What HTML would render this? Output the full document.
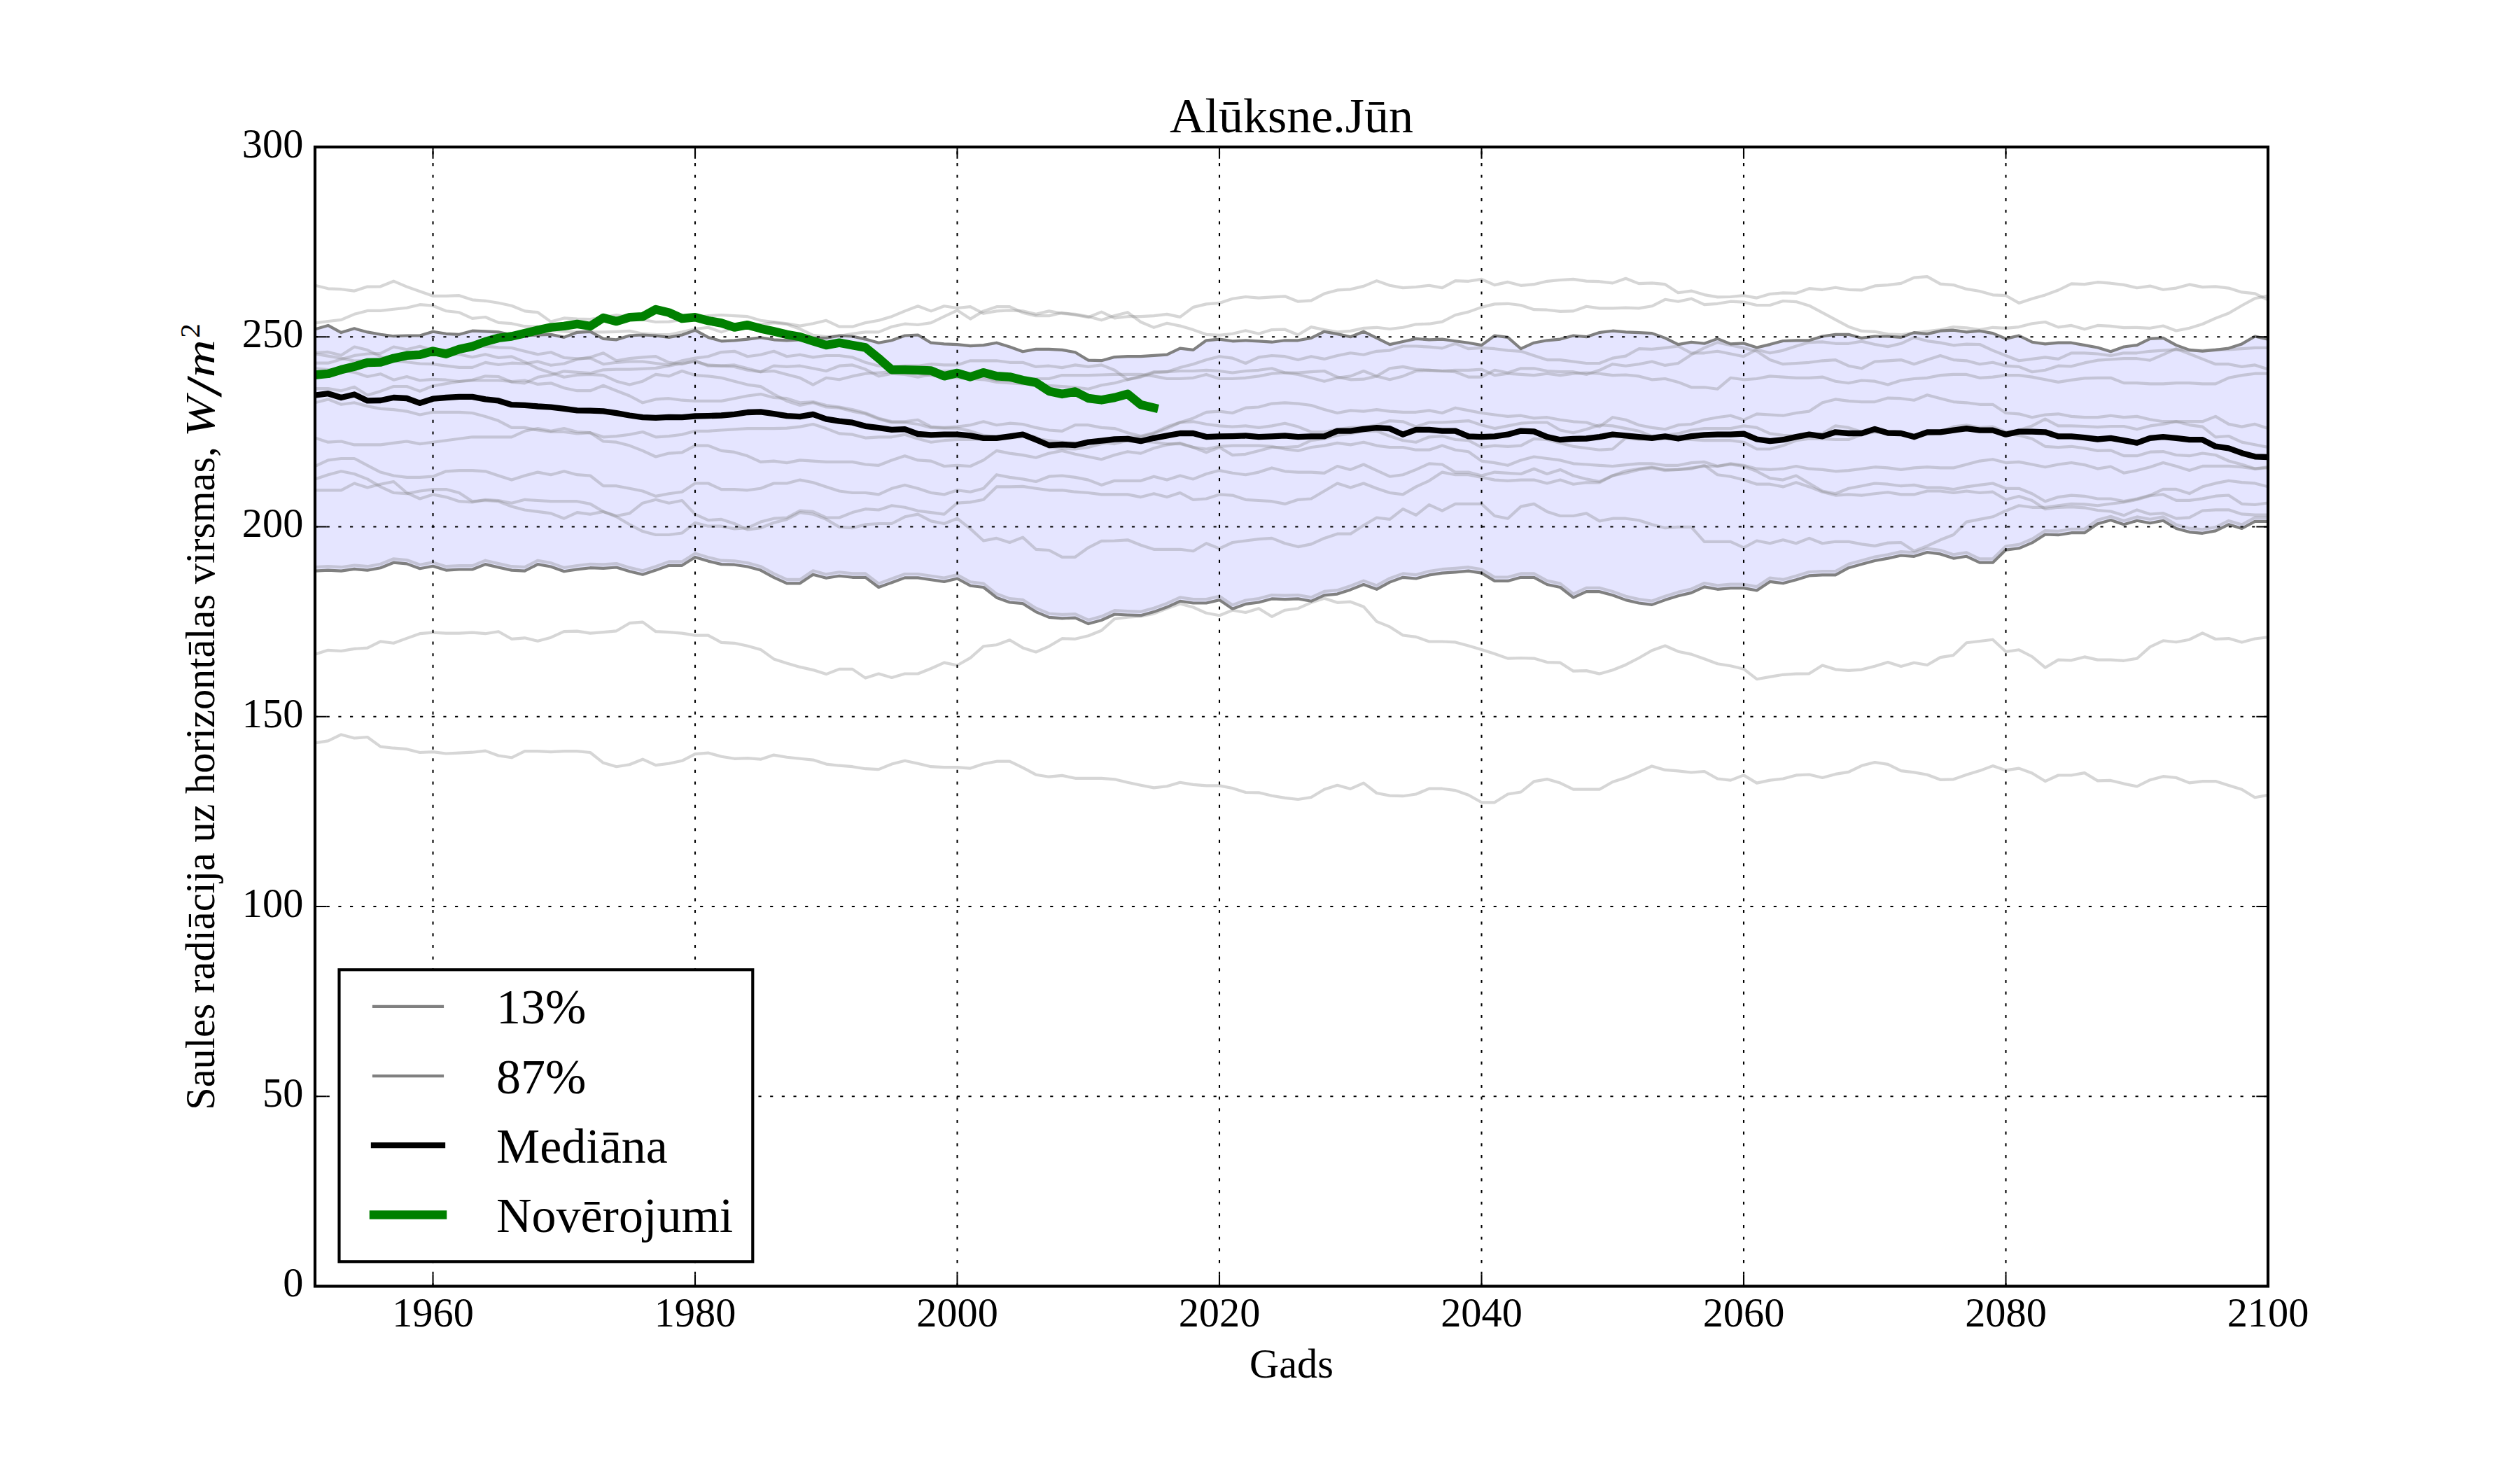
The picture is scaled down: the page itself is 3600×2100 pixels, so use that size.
<!DOCTYPE html><html><head><meta charset="utf-8"><style>html,body{margin:0;padding:0;background:#fff;width:3600px;height:2100px;overflow:hidden}svg{display:block}text{font-family:"Liberation Serif",serif;fill:#000}</style></head><body>
<svg width="3600" height="2100" viewBox="0 0 3600 2100">
<defs><clipPath id="ax"><rect x="450.0" y="210.0" width="2790.0" height="1627.5"/></clipPath></defs>
<rect x="0" y="0" width="3600" height="2100" fill="#fff"/>
<g clip-path="url(#ax)">
<path d="M450.0,470.3 L468.7,464.9 L487.4,475.1 L506.2,469.3 L524.9,474.4 L543.6,477.8 L562.3,480.2 L581.1,479.5 L599.8,479.5 L618.5,473.7 L637.2,476.8 L656.0,477.8 L674.7,472.7 L693.4,473.4 L712.1,474.4 L730.9,478.5 L749.6,479.5 L768.3,478.5 L787.0,477.8 L805.8,481.9 L824.5,474.8 L843.2,473.7 L861.9,483.9 L880.7,485.3 L899.4,479.5 L918.1,478.5 L936.8,479.5 L955.6,481.9 L974.3,478.5 L993.0,471.7 L1011.7,481.9 L1030.5,487.3 L1049.2,486.3 L1067.9,484.6 L1086.6,482.2 L1105.4,485.3 L1124.1,486.3 L1142.8,485.3 L1161.5,482.9 L1180.3,482.9 L1199.0,479.5 L1217.7,480.5 L1236.4,484.6 L1255.2,489.7 L1273.9,486.3 L1292.6,479.5 L1311.3,478.5 L1330.1,489.7 L1348.8,491.4 L1367.5,492.1 L1386.2,494.1 L1405.0,493.1 L1423.7,489.7 L1442.4,495.5 L1461.1,502.3 L1479.9,498.9 L1498.6,498.9 L1517.3,499.9 L1536.0,503.3 L1554.8,514.6 L1573.5,515.2 L1592.2,510.1 L1610.9,509.1 L1629.7,509.1 L1648.4,507.8 L1667.1,506.7 L1685.8,497.6 L1704.6,499.9 L1723.3,486.3 L1742.0,484.6 L1760.7,487.3 L1779.5,486.3 L1798.2,487.3 L1816.9,488.7 L1835.6,486.3 L1854.4,486.3 L1873.1,482.9 L1891.8,473.7 L1910.5,477.1 L1929.3,481.2 L1948.0,473.7 L1966.7,482.9 L1985.4,492.1 L2004.2,488.0 L2022.9,483.9 L2041.6,485.3 L2060.3,484.6 L2079.1,487.3 L2097.8,489.7 L2116.5,493.1 L2135.2,479.5 L2154.0,481.9 L2172.7,498.2 L2191.4,489.7 L2210.1,486.3 L2228.9,484.6 L2247.6,479.5 L2266.3,481.2 L2285.0,475.1 L2303.8,472.7 L2322.5,474.4 L2341.2,475.1 L2359.9,476.1 L2378.7,482.9 L2397.4,492.1 L2416.1,488.7 L2434.8,490.7 L2453.6,483.9 L2472.3,491.4 L2491.0,490.4 L2509.7,496.5 L2528.5,492.1 L2547.2,487.0 L2565.9,486.3 L2584.6,486.3 L2603.4,480.5 L2622.1,477.8 L2640.8,477.8 L2659.5,482.9 L2678.3,480.5 L2697.0,480.5 L2715.7,481.9 L2734.4,475.1 L2753.2,477.1 L2771.9,472.7 L2790.6,471.7 L2809.3,474.4 L2828.1,472.7 L2846.8,476.1 L2865.5,483.9 L2884.2,479.5 L2903.0,488.7 L2921.7,491.4 L2940.4,489.7 L2959.1,489.7 L2977.9,493.1 L2996.6,496.5 L3015.3,502.3 L3034.0,495.5 L3052.8,493.1 L3071.5,483.9 L3090.2,482.9 L3108.9,493.1 L3127.7,499.9 L3146.4,501.6 L3165.1,499.9 L3183.8,497.6 L3202.6,491.4 L3221.3,480.5 L3240.0,484.6 L3240.0,744.8 L3221.3,744.8 L3202.6,755.0 L3183.8,749.3 L3165.1,758.4 L3146.4,761.8 L3127.7,760.1 L3108.9,755.0 L3090.2,743.8 L3071.5,747.2 L3052.8,743.8 L3034.0,749.3 L3015.3,743.1 L2996.6,748.2 L2977.9,761.2 L2959.1,761.2 L2940.4,764.2 L2921.7,763.5 L2903.0,775.4 L2884.2,783.3 L2865.5,785.6 L2846.8,803.7 L2828.1,803.7 L2809.3,794.8 L2790.6,797.6 L2771.9,791.4 L2753.2,789.0 L2734.4,794.8 L2715.7,793.5 L2697.0,797.6 L2678.3,801.0 L2659.5,806.1 L2640.8,811.2 L2622.1,821.4 L2603.4,821.4 L2584.6,822.4 L2565.9,828.2 L2547.2,833.3 L2528.5,830.9 L2509.7,843.5 L2491.0,840.1 L2472.3,840.1 L2453.6,841.8 L2434.8,838.4 L2416.1,846.9 L2397.4,851.3 L2378.7,857.1 L2359.9,863.9 L2341.2,861.5 L2322.5,857.1 L2303.8,850.3 L2285.0,845.2 L2266.3,845.2 L2247.6,853.7 L2228.9,839.0 L2210.1,835.0 L2191.4,824.8 L2172.7,824.8 L2154.0,829.9 L2135.2,829.9 L2116.5,818.6 L2097.8,815.6 L2079.1,817.3 L2060.3,818.6 L2041.6,821.4 L2022.9,826.5 L2004.2,824.8 L1985.4,831.6 L1966.7,841.8 L1948.0,835.0 L1929.3,842.4 L1910.5,848.6 L1891.8,850.3 L1873.1,858.8 L1854.4,855.4 L1835.6,856.1 L1816.9,855.4 L1798.2,860.5 L1779.5,862.9 L1760.7,869.7 L1742.0,857.1 L1723.3,861.5 L1704.6,861.5 L1685.8,858.8 L1667.1,867.3 L1648.4,874.1 L1629.7,879.2 L1610.9,878.5 L1592.2,877.5 L1573.5,886.0 L1554.8,891.1 L1536.0,882.6 L1517.3,883.3 L1498.6,881.9 L1479.9,874.1 L1461.1,862.2 L1442.4,860.5 L1423.7,853.7 L1405.0,839.0 L1386.2,836.7 L1367.5,826.5 L1348.8,830.9 L1330.1,828.2 L1311.3,825.4 L1292.6,825.4 L1273.9,832.2 L1255.2,839.0 L1236.4,824.8 L1217.7,824.8 L1199.0,822.7 L1180.3,825.8 L1161.5,820.7 L1142.8,833.3 L1124.1,833.3 L1105.4,824.8 L1086.6,814.6 L1067.9,809.5 L1049.2,806.7 L1030.5,806.1 L1011.7,801.6 L993.0,795.9 L974.3,807.8 L955.6,807.8 L936.8,814.6 L918.1,820.7 L899.4,816.3 L880.7,810.5 L861.9,811.8 L843.2,811.2 L824.5,813.4 L805.8,816.3 L787.0,809.5 L768.3,806.1 L749.6,815.6 L730.9,814.6 L712.1,810.5 L693.4,806.1 L674.7,813.5 L656.0,813.5 L637.2,814.6 L618.5,808.8 L599.8,812.2 L581.1,805.4 L562.3,803.7 L543.6,811.2 L524.9,814.6 L506.2,812.9 L487.4,815.6 L468.7,814.6 L450.0,815.6 Z" fill="#e5e5ff" stroke="none"/>
<path d="M450.0,504.0 L468.7,502.9 L487.4,507.6 L506.2,495.5 L524.9,500.1 L543.6,509.4 L562.3,515.6 L581.1,517.2 L599.8,519.5 L618.5,520.2 L637.2,522.6 L656.0,524.9 L674.7,524.9 L693.4,517.9 L712.1,521.0 L730.9,518.7 L749.6,519.5 L768.3,516.4 L787.0,521.8 L805.8,519.5 L824.5,513.3 L843.2,510.4 L861.9,504.3 L880.7,515.3 L899.4,512.1 L918.1,510.4 L936.8,509.2 L955.6,517.8 L974.3,520.2 L993.0,515.3 L1011.7,522.7 L1030.5,522.7 L1049.2,521.4 L1067.9,526.3 L1086.6,531.2 L1105.4,522.7 L1124.1,523.9 L1142.8,522.7 L1161.5,526.3 L1180.3,530.0 L1199.0,522.7 L1217.7,521.4 L1236.4,527.6 L1255.2,537.4 L1273.9,533.7 L1292.6,534.9 L1311.3,538.6 L1330.1,534.9 L1348.8,530.0 L1367.5,530.0 L1386.2,533.7 L1405.0,538.6 L1423.7,543.5 L1442.4,543.5 L1461.1,542.3 L1479.9,541.0 L1498.6,541.0 L1517.3,536.1 L1536.0,536.1 L1554.8,536.1 L1573.5,535.5 L1592.2,534.9 L1610.9,534.9 L1629.7,534.9 L1648.4,537.4 L1667.1,541.0 L1685.8,541.0 L1704.6,539.8 L1723.3,534.9 L1742.0,541.0 L1760.7,541.0 L1779.5,539.8 L1798.2,537.4 L1816.9,533.7 L1835.6,532.5 L1854.4,532.5 L1873.1,531.2 L1891.8,530.0 L1910.5,538.6 L1929.3,542.3 L1948.0,541.7 L1966.7,537.4 L1985.4,526.3 L2004.2,523.9 L2022.9,527.6 L2041.6,528.8 L2060.3,530.0 L2079.1,528.8 L2097.8,528.8 L2116.5,527.6 L2135.2,536.1 L2154.0,533.7 L2172.7,534.9 L2191.4,536.1 L2210.1,533.7 L2228.9,536.1 L2247.6,533.7 L2266.3,532.5 L2285.0,533.7 L2303.8,536.1 L2322.5,535.5 L2341.2,537.4 L2359.9,542.3 L2378.7,541.0 L2397.4,545.9 L2416.1,553.3 L2434.8,553.3 L2453.6,555.7 L2472.3,539.8 L2491.0,542.3 L2509.7,541.0 L2528.5,537.4 L2547.2,538.6 L2565.9,539.8 L2584.6,539.8 L2603.4,538.6 L2622.1,544.7 L2640.8,547.2 L2659.5,543.5 L2678.3,544.7 L2697.0,549.6 L2715.7,543.5 L2734.4,541.0 L2753.2,539.8 L2771.9,536.1 L2790.6,534.9 L2809.3,534.9 L2828.1,539.8 L2846.8,538.6 L2865.5,536.1 L2884.2,536.1 L2903.0,538.6 L2921.7,542.3 L2940.4,545.9 L2959.1,542.9 L2977.9,540.4 L2996.6,539.8 L3015.3,539.8 L3034.0,547.1 L3052.8,547.1 L3071.5,548.4 L3090.2,548.4 L3108.9,547.1 L3127.7,547.1 L3146.4,548.4 L3165.1,548.4 L3183.8,539.8 L3202.6,536.1 L3221.3,533.7 L3240.0,533.7" fill="none" stroke="#808080" stroke-opacity="0.32" stroke-width="4.17" stroke-linejoin="round"/>
<path d="M450.0,518.7 L468.7,518.7 L487.4,513.3 L506.2,507.9 L524.9,505.5 L543.6,504.8 L562.3,495.5 L581.1,499.3 L599.8,494.7 L618.5,500.1 L637.2,505.5 L656.0,506.3 L674.7,510.2 L693.4,506.3 L712.1,511.0 L730.9,509.4 L749.6,517.2 L768.3,526.4 L787.0,532.6 L805.8,538.8 L824.5,535.7 L843.2,534.9 L861.9,536.1 L880.7,544.7 L899.4,549.6 L918.1,544.7 L936.8,534.9 L955.6,537.4 L974.3,530.0 L993.0,536.1 L1011.7,537.4 L1030.5,539.8 L1049.2,544.7 L1067.9,549.6 L1086.6,552.1 L1105.4,563.1 L1124.1,572.9 L1142.8,579.0 L1161.5,575.3 L1180.3,581.5 L1199.0,582.7 L1217.7,587.6 L1236.4,591.3 L1255.2,598.6 L1273.9,603.5 L1292.6,603.5 L1311.3,606.0 L1330.1,610.9 L1348.8,611.6 L1367.5,611.6 L1386.2,615.8 L1405.0,621.9 L1423.7,624.3 L1442.4,623.1 L1461.1,621.4 L1479.9,624.3 L1498.6,639.0 L1517.3,641.0 L1536.0,641.5 L1554.8,639.0 L1573.5,634.1 L1592.2,629.2 L1610.9,624.3 L1629.7,624.3 L1648.4,619.4 L1667.1,612.1 L1685.8,603.5 L1704.6,602.3 L1723.3,606.0 L1742.0,608.4 L1760.7,609.6 L1779.5,608.4 L1798.2,610.9 L1816.9,608.4 L1835.6,604.7 L1854.4,609.6 L1873.1,617.0 L1891.8,617.0 L1910.5,613.3 L1929.3,610.9 L1948.0,610.2 L1966.7,607.2 L1985.4,601.1 L2004.2,602.3 L2022.9,609.6 L2041.6,603.5 L2060.3,603.5 L2079.1,602.3 L2097.8,601.1 L2116.5,607.2 L2135.2,612.1 L2154.0,608.4 L2172.7,604.7 L2191.4,603.5 L2210.1,603.5 L2228.9,614.5 L2247.6,618.2 L2266.3,613.3 L2285.0,607.2 L2303.8,608.4 L2322.5,612.1 L2341.2,615.8 L2359.9,623.1 L2378.7,621.9 L2397.4,619.4 L2416.1,614.5 L2434.8,612.1 L2453.6,612.1 L2472.3,612.1 L2491.0,608.4 L2509.7,610.9 L2528.5,619.4 L2547.2,621.9 L2565.9,623.1 L2584.6,621.9 L2603.4,619.4 L2622.1,608.4 L2640.8,610.9 L2659.5,617.0 L2678.3,617.0 L2697.0,618.2 L2715.7,618.2 L2734.4,626.8 L2753.2,619.4 L2771.9,617.0 L2790.6,609.6 L2809.3,607.2 L2828.1,610.9 L2846.8,609.6 L2865.5,617.0 L2884.2,614.5 L2903.0,608.4 L2921.7,598.6 L2940.4,608.4 L2959.1,608.4 L2977.9,609.0 L2996.6,610.2 L3015.3,609.0 L3034.0,609.0 L3052.8,613.3 L3071.5,608.4 L3090.2,605.9 L3108.9,602.2 L3127.7,607.1 L3146.4,609.6 L3165.1,624.3 L3183.8,623.0 L3202.6,631.6 L3221.3,635.3 L3240.0,639.0" fill="none" stroke="#808080" stroke-opacity="0.32" stroke-width="4.17" stroke-linejoin="round"/>
<path d="M450.0,505.5 L468.7,508.6 L487.4,511.7 L506.2,515.6 L524.9,514.8 L543.6,513.3 L562.3,511.0 L581.1,508.6 L599.8,506.3 L618.5,503.2 L637.2,500.1 L656.0,497.0 L674.7,493.9 L693.4,494.7 L712.1,496.3 L730.9,497.0 L749.6,501.7 L768.3,506.3 L787.0,503.2 L805.8,511.0 L824.5,512.4 L843.2,511.6 L861.9,520.2 L880.7,517.8 L899.4,516.5 L918.1,516.5 L936.8,519.0 L955.6,521.4 L974.3,515.3 L993.0,511.6 L1011.7,509.2 L1030.5,503.1 L1049.2,501.8 L1067.9,509.2 L1086.6,506.7 L1105.4,501.8 L1124.1,509.2 L1142.8,506.7 L1161.5,510.4 L1180.3,508.0 L1199.0,508.0 L1217.7,510.4 L1236.4,517.8 L1255.2,522.7 L1273.9,523.9 L1292.6,522.7 L1311.3,522.7 L1330.1,520.2 L1348.8,521.4 L1367.5,521.4 L1386.2,515.3 L1405.0,515.3 L1423.7,515.3 L1442.4,517.8 L1461.1,517.8 L1479.9,523.9 L1498.6,522.7 L1517.3,525.1 L1536.0,521.4 L1554.8,523.9 L1573.5,521.4 L1592.2,528.8 L1610.9,542.3 L1629.7,537.4 L1648.4,531.2 L1667.1,531.2 L1685.8,530.0 L1704.6,530.0 L1723.3,528.8 L1742.0,530.0 L1760.7,532.5 L1779.5,530.0 L1798.2,528.8 L1816.9,526.3 L1835.6,532.5 L1854.4,534.9 L1873.1,539.8 L1891.8,544.7 L1910.5,539.8 L1929.3,537.4 L1948.0,530.0 L1966.7,537.4 L1985.4,542.3 L2004.2,537.4 L2022.9,530.0 L2041.6,528.8 L2060.3,530.0 L2079.1,531.2 L2097.8,538.6 L2116.5,538.6 L2135.2,528.8 L2154.0,532.5 L2172.7,526.3 L2191.4,526.3 L2210.1,530.0 L2228.9,531.2 L2247.6,531.2 L2266.3,534.9 L2285.0,528.8 L2303.8,520.2 L2322.5,522.7 L2341.2,520.2 L2359.9,516.5 L2378.7,521.9 L2397.4,519.0 L2416.1,506.7 L2434.8,496.9 L2453.6,489.1 L2472.3,493.3 L2491.0,496.9 L2509.7,501.8 L2528.5,514.1 L2547.2,520.2 L2565.9,519.0 L2584.6,517.8 L2603.4,515.3 L2622.1,514.1 L2640.8,522.7 L2659.5,526.3 L2678.3,516.5 L2697.0,515.3 L2715.7,514.1 L2734.4,520.2 L2753.2,514.1 L2771.9,508.0 L2790.6,514.1 L2809.3,515.3 L2828.1,520.2 L2846.8,517.8 L2865.5,522.7 L2884.2,523.9 L2903.0,531.2 L2921.7,528.8 L2940.4,522.7 L2959.1,523.3 L2977.9,518.4 L2996.6,514.7 L3015.3,513.5 L3034.0,512.2 L3052.8,512.2 L3071.5,514.7 L3090.2,506.7 L3108.9,498.2 L3127.7,505.5 L3146.4,512.9 L3165.1,520.2 L3183.8,520.2 L3202.6,523.9 L3221.3,521.4 L3240.0,527.5" fill="none" stroke="#808080" stroke-opacity="0.32" stroke-width="4.17" stroke-linejoin="round"/>
<path d="M450.0,526.4 L468.7,528.0 L487.4,529.5 L506.2,531.9 L524.9,538.0 L543.6,534.2 L562.3,542.7 L581.1,538.0 L599.8,543.5 L618.5,541.9 L637.2,542.7 L656.0,545.0 L674.7,543.5 L693.4,543.5 L712.1,543.5 L730.9,545.0 L749.6,543.5 L768.3,548.9 L787.0,547.3 L805.8,554.3 L824.5,558.2 L843.2,558.2 L861.9,550.8 L880.7,558.2 L899.4,565.5 L918.1,575.3 L936.8,570.4 L955.6,569.2 L974.3,571.7 L993.0,572.9 L1011.7,572.9 L1030.5,572.9 L1049.2,569.2 L1067.9,565.5 L1086.6,563.1 L1105.4,568.0 L1124.1,569.2 L1142.8,575.3 L1161.5,574.1 L1180.3,579.0 L1199.0,581.5 L1217.7,585.1 L1236.4,590.0 L1255.2,597.4 L1273.9,602.3 L1292.6,602.3 L1311.3,599.8 L1330.1,609.6 L1348.8,610.9 L1367.5,609.6 L1386.2,607.2 L1405.0,602.3 L1423.7,607.2 L1442.4,604.7 L1461.1,606.0 L1479.9,610.9 L1498.6,614.5 L1517.3,615.8 L1536.0,607.2 L1554.8,607.2 L1573.5,610.9 L1592.2,612.1 L1610.9,618.2 L1629.7,623.1 L1648.4,618.2 L1667.1,609.6 L1685.8,603.5 L1704.6,597.4 L1723.3,588.8 L1742.0,587.6 L1760.7,590.0 L1779.5,582.7 L1798.2,581.5 L1816.9,576.6 L1835.6,575.3 L1854.4,576.6 L1873.1,579.0 L1891.8,585.1 L1910.5,590.0 L1929.3,586.4 L1948.0,587.6 L1966.7,585.1 L1985.4,587.6 L2004.2,588.8 L2022.9,588.8 L2041.6,586.4 L2060.3,590.0 L2079.1,582.7 L2097.8,586.4 L2116.5,590.0 L2135.2,592.5 L2154.0,594.9 L2172.7,593.7 L2191.4,597.4 L2210.1,596.2 L2228.9,599.8 L2247.6,602.3 L2266.3,603.5 L2285.0,609.6 L2303.8,596.2 L2322.5,599.8 L2341.2,607.2 L2359.9,610.9 L2378.7,613.3 L2397.4,607.2 L2416.1,606.0 L2434.8,599.8 L2453.6,596.2 L2472.3,593.7 L2491.0,599.8 L2509.7,591.3 L2528.5,592.5 L2547.2,593.7 L2565.9,590.0 L2584.6,587.6 L2603.4,575.3 L2622.1,570.4 L2640.8,572.9 L2659.5,574.1 L2678.3,574.1 L2697.0,568.6 L2715.7,569.2 L2734.4,571.7 L2753.2,564.3 L2771.9,569.2 L2790.6,574.1 L2809.3,575.3 L2828.1,577.8 L2846.8,577.8 L2865.5,590.0 L2884.2,591.3 L2903.0,596.2 L2921.7,592.5 L2940.4,591.3 L2959.1,594.9 L2977.9,596.1 L2996.6,596.1 L3015.3,593.7 L3034.0,596.1 L3052.8,594.9 L3071.5,599.2 L3090.2,602.2 L3108.9,602.2 L3127.7,602.2 L3146.4,602.2 L3165.1,594.9 L3183.8,605.9 L3202.6,609.6 L3221.3,605.9 L3240.0,612.0" fill="none" stroke="#808080" stroke-opacity="0.32" stroke-width="4.17" stroke-linejoin="round"/>
<path d="M450.0,555.1 L468.7,555.1 L487.4,558.2 L506.2,552.8 L524.9,564.4 L543.6,558.9 L562.3,552.0 L581.1,552.0 L599.8,558.9 L618.5,551.2 L637.2,548.1 L656.0,545.0 L674.7,542.7 L693.4,537.3 L712.1,538.0 L730.9,545.8 L749.6,547.3 L768.3,538.8 L787.0,535.7 L805.8,530.3 L824.5,531.9 L843.2,533.2 L861.9,528.3 L880.7,527.6 L899.4,527.6 L918.1,526.8 L936.8,525.9 L955.6,522.7 L974.3,519.0 L993.0,516.5 L1011.7,521.4 L1030.5,522.7 L1049.2,523.9 L1067.9,528.8 L1086.6,531.2 L1105.4,530.0 L1124.1,534.9 L1142.8,539.8 L1161.5,549.6 L1180.3,539.8 L1199.0,542.3 L1217.7,537.4 L1236.4,533.7 L1255.2,532.5 L1273.9,531.2 L1292.6,532.5 L1311.3,533.7 L1330.1,536.1 L1348.8,538.6 L1367.5,539.8 L1386.2,541.0 L1405.0,542.3 L1423.7,545.9 L1442.4,547.2 L1461.1,548.4 L1479.9,548.4 L1498.6,550.8 L1517.3,552.1 L1536.0,553.3 L1554.8,555.7 L1573.5,550.2 L1592.2,547.2 L1610.9,542.3 L1629.7,538.6 L1648.4,532.5 L1667.1,531.2 L1685.8,525.1 L1704.6,520.2 L1723.3,514.1 L1742.0,509.2 L1760.7,511.6 L1779.5,519.0 L1798.2,510.4 L1816.9,508.0 L1835.6,509.2 L1854.4,514.1 L1873.1,509.2 L1891.8,512.9 L1910.5,508.0 L1929.3,504.3 L1948.0,506.7 L1966.7,501.8 L1985.4,500.6 L2004.2,494.5 L2022.9,494.5 L2041.6,495.7 L2060.3,497.4 L2079.1,490.8 L2097.8,498.2 L2116.5,496.9 L2135.2,498.2 L2154.0,500.6 L2172.7,501.8 L2191.4,508.0 L2210.1,514.1 L2228.9,514.1 L2247.6,516.5 L2266.3,519.0 L2285.0,519.0 L2303.8,511.6 L2322.5,508.6 L2341.2,498.2 L2359.9,498.9 L2378.7,496.9 L2397.4,494.5 L2416.1,504.3 L2434.8,504.3 L2453.6,501.8 L2472.3,505.5 L2491.0,509.2 L2509.7,499.4 L2528.5,504.3 L2547.2,500.6 L2565.9,494.5 L2584.6,489.1 L2603.4,488.4 L2622.1,490.8 L2640.8,490.8 L2659.5,487.6 L2678.3,492.0 L2697.0,495.1 L2715.7,490.8 L2734.4,482.2 L2753.2,487.1 L2771.9,489.6 L2790.6,493.3 L2809.3,491.6 L2828.1,492.0 L2846.8,500.6 L2865.5,508.0 L2884.2,515.3 L2903.0,512.9 L2921.7,510.4 L2940.4,512.9 L2959.1,504.3 L2977.9,504.3 L2996.6,505.5 L3015.3,508.0 L3034.0,504.3 L3052.8,504.3 L3071.5,501.8 L3090.2,500.6 L3108.9,499.4 L3127.7,500.6 L3146.4,500.6 L3165.1,499.4 L3183.8,499.4 L3202.6,498.2 L3221.3,496.9 L3240.0,496.9" fill="none" stroke="#808080" stroke-opacity="0.32" stroke-width="4.17" stroke-linejoin="round"/>
<path d="M450.0,575.3 L468.7,570.4 L487.4,577.8 L506.2,575.3 L524.9,580.2 L543.6,583.9 L562.3,585.1 L581.1,587.6 L599.8,592.5 L618.5,588.8 L637.2,588.8 L656.0,588.8 L674.7,590.0 L693.4,594.9 L712.1,601.1 L730.9,610.9 L749.6,610.9 L768.3,614.5 L787.0,617.0 L805.8,617.0 L824.5,619.4 L843.2,618.2 L861.9,624.3 L880.7,623.1 L899.4,620.7 L918.1,617.0 L936.8,624.3 L955.6,623.1 L974.3,620.7 L993.0,615.8 L1011.7,615.8 L1030.5,614.5 L1049.2,613.3 L1067.9,612.1 L1086.6,612.1 L1105.4,612.1 L1124.1,611.6 L1142.8,609.6 L1161.5,606.0 L1180.3,612.1 L1199.0,619.4 L1217.7,620.7 L1236.4,625.6 L1255.2,624.3 L1273.9,624.3 L1292.6,620.7 L1311.3,626.8 L1330.1,631.7 L1348.8,629.2 L1367.5,628.0 L1386.2,628.0 L1405.0,626.8 L1423.7,626.8 L1442.4,625.6 L1461.1,623.8 L1479.9,626.8 L1498.6,629.2 L1517.3,631.7 L1536.0,632.9 L1554.8,632.9 L1573.5,631.7 L1592.2,634.1 L1610.9,629.2 L1629.7,630.5 L1648.4,631.7 L1667.1,634.1 L1685.8,634.1 L1704.6,639.0 L1723.3,641.5 L1742.0,637.8 L1760.7,636.6 L1779.5,636.6 L1798.2,636.6 L1816.9,637.8 L1835.6,641.5 L1854.4,643.9 L1873.1,639.0 L1891.8,636.6 L1910.5,632.9 L1929.3,635.4 L1948.0,631.7 L1966.7,636.6 L1985.4,639.0 L2004.2,639.0 L2022.9,642.7 L2041.6,642.7 L2060.3,636.6 L2079.1,642.7 L2097.8,645.2 L2116.5,658.6 L2135.2,661.1 L2154.0,664.8 L2172.7,657.4 L2191.4,652.5 L2210.1,655.0 L2228.9,657.4 L2247.6,662.3 L2266.3,663.5 L2285.0,664.8 L2303.8,666.0 L2322.5,664.1 L2341.2,662.3 L2359.9,662.3 L2378.7,664.8 L2397.4,664.8 L2416.1,661.1 L2434.8,659.9 L2453.6,666.0 L2472.3,662.3 L2491.0,664.8 L2509.7,669.7 L2528.5,670.9 L2547.2,669.7 L2565.9,666.0 L2584.6,669.7 L2603.4,670.9 L2622.1,673.3 L2640.8,672.1 L2659.5,669.7 L2678.3,667.2 L2697.0,668.4 L2715.7,670.9 L2734.4,668.4 L2753.2,667.2 L2771.9,668.4 L2790.6,668.4 L2809.3,663.5 L2828.1,658.6 L2846.8,656.2 L2865.5,661.1 L2884.2,659.9 L2903.0,663.5 L2921.7,667.2 L2940.4,663.5 L2959.1,661.0 L2977.9,664.1 L2996.6,669.6 L3015.3,666.5 L3034.0,675.7 L3052.8,672.1 L3071.5,667.2 L3090.2,661.0 L3108.9,665.9 L3127.7,672.0 L3146.4,665.9 L3165.1,665.9 L3183.8,665.9 L3202.6,667.1 L3221.3,669.6 L3240.0,668.3" fill="none" stroke="#808080" stroke-opacity="0.32" stroke-width="4.17" stroke-linejoin="round"/>
<path d="M450.0,625.6 L468.7,631.7 L487.4,630.5 L506.2,635.4 L524.9,635.4 L543.6,635.4 L562.3,632.9 L581.1,630.5 L599.8,634.1 L618.5,631.7 L637.2,629.2 L656.0,626.8 L674.7,624.3 L693.4,624.3 L712.1,624.3 L730.9,624.3 L749.6,615.8 L768.3,612.1 L787.0,615.8 L805.8,612.1 L824.5,617.0 L843.2,618.2 L861.9,630.5 L880.7,631.7 L899.4,636.6 L918.1,643.9 L936.8,652.5 L955.6,647.6 L974.3,646.4 L993.0,636.6 L1011.7,636.6 L1030.5,643.9 L1049.2,645.9 L1067.9,651.3 L1086.6,659.9 L1105.4,658.6 L1124.1,661.1 L1142.8,657.4 L1161.5,658.6 L1180.3,659.9 L1199.0,659.9 L1217.7,659.9 L1236.4,663.5 L1255.2,664.8 L1273.9,657.4 L1292.6,651.3 L1311.3,657.4 L1330.1,658.6 L1348.8,666.0 L1367.5,664.8 L1386.2,666.0 L1405.0,657.4 L1423.7,643.9 L1442.4,647.6 L1461.1,650.1 L1479.9,653.7 L1498.6,647.6 L1517.3,643.9 L1536.0,648.8 L1554.8,652.5 L1573.5,656.2 L1592.2,650.1 L1610.9,645.2 L1629.7,647.6 L1648.4,640.3 L1667.1,635.4 L1685.8,632.9 L1704.6,639.0 L1723.3,646.4 L1742.0,639.0 L1760.7,650.1 L1779.5,648.8 L1798.2,643.9 L1816.9,639.0 L1835.6,639.0 L1854.4,637.8 L1873.1,629.2 L1891.8,626.8 L1910.5,621.9 L1929.3,619.4 L1948.0,615.8 L1966.7,615.8 L1985.4,623.1 L2004.2,629.2 L2022.9,631.7 L2041.6,624.3 L2060.3,623.1 L2079.1,628.0 L2097.8,629.2 L2116.5,639.0 L2135.2,636.6 L2154.0,637.8 L2172.7,636.6 L2191.4,626.8 L2210.1,628.0 L2228.9,632.9 L2247.6,637.8 L2266.3,640.3 L2285.0,642.7 L2303.8,641.5 L2322.5,625.6 L2341.2,628.0 L2359.9,626.8 L2378.7,626.8 L2397.4,626.8 L2416.1,628.0 L2434.8,629.2 L2453.6,629.2 L2472.3,629.2 L2491.0,631.7 L2509.7,641.5 L2528.5,641.5 L2547.2,636.6 L2565.9,629.2 L2584.6,626.8 L2603.4,626.8 L2622.1,628.0 L2640.8,628.0 L2659.5,620.7 L2678.3,617.0 L2697.0,619.4 L2715.7,620.7 L2734.4,624.3 L2753.2,620.7 L2771.9,619.4 L2790.6,617.0 L2809.3,614.5 L2828.1,615.8 L2846.8,617.0 L2865.5,619.4 L2884.2,621.9 L2903.0,626.8 L2921.7,637.8 L2940.4,639.0 L2959.1,637.8 L2977.9,640.2 L2996.6,643.9 L3015.3,643.3 L3034.0,651.2 L3052.8,651.2 L3071.5,645.7 L3090.2,645.1 L3108.9,650.0 L3127.7,651.2 L3146.4,647.5 L3165.1,650.0 L3183.8,658.5 L3202.6,663.4 L3221.3,669.6 L3240.0,667.1" fill="none" stroke="#808080" stroke-opacity="0.32" stroke-width="4.17" stroke-linejoin="round"/>
<path d="M450.0,666.0 L468.7,657.4 L487.4,655.0 L506.2,655.0 L524.9,664.8 L543.6,674.6 L562.3,679.5 L581.1,681.9 L599.8,681.9 L618.5,680.7 L637.2,673.3 L656.0,672.1 L674.7,672.1 L693.4,673.3 L712.1,679.5 L730.9,685.6 L749.6,679.5 L768.3,674.6 L787.0,678.2 L805.8,673.3 L824.5,678.2 L843.2,679.5 L861.9,694.2 L880.7,694.2 L899.4,697.8 L918.1,701.5 L936.8,708.9 L955.6,705.2 L974.3,702.7 L993.0,690.5 L1011.7,690.5 L1030.5,699.1 L1049.2,699.1 L1067.9,700.3 L1086.6,697.8 L1105.4,690.5 L1124.1,690.5 L1142.8,685.6 L1161.5,689.3 L1180.3,695.4 L1199.0,701.5 L1217.7,704.0 L1236.4,704.0 L1255.2,706.4 L1273.9,697.8 L1292.6,692.9 L1311.3,697.8 L1330.1,704.0 L1348.8,706.4 L1367.5,700.3 L1386.2,702.7 L1405.0,697.8 L1423.7,678.2 L1442.4,681.9 L1461.1,684.4 L1479.9,688.0 L1498.6,680.7 L1517.3,679.5 L1536.0,681.9 L1554.8,685.6 L1573.5,692.9 L1592.2,686.8 L1610.9,686.8 L1629.7,686.8 L1648.4,680.7 L1667.1,685.6 L1685.8,679.5 L1704.6,684.4 L1723.3,677.0 L1742.0,672.1 L1760.7,675.8 L1779.5,678.2 L1798.2,674.6 L1816.9,668.4 L1835.6,673.3 L1854.4,674.6 L1873.1,674.6 L1891.8,675.8 L1910.5,666.0 L1929.3,670.9 L1948.0,663.5 L1966.7,672.1 L1985.4,680.7 L2004.2,678.2 L2022.9,670.9 L2041.6,662.3 L2060.3,663.5 L2079.1,674.6 L2097.8,674.6 L2116.5,679.5 L2135.2,674.6 L2154.0,675.8 L2172.7,677.0 L2191.4,669.7 L2210.1,677.0 L2228.9,670.9 L2247.6,679.5 L2266.3,684.4 L2285.0,688.0 L2303.8,679.5 L2322.5,672.7 L2341.2,669.7 L2359.9,667.2 L2378.7,670.9 L2397.4,670.9 L2416.1,669.7 L2434.8,664.8 L2453.6,678.2 L2472.3,680.7 L2491.0,685.6 L2509.7,691.7 L2528.5,691.7 L2547.2,695.4 L2565.9,689.3 L2584.6,695.4 L2603.4,702.7 L2622.1,707.6 L2640.8,706.4 L2659.5,707.6 L2678.3,705.2 L2697.0,703.3 L2715.7,706.4 L2734.4,706.4 L2753.2,701.5 L2771.9,701.5 L2790.6,704.0 L2809.3,701.5 L2828.1,704.0 L2846.8,702.7 L2865.5,713.8 L2884.2,708.9 L2903.0,715.0 L2921.7,727.2 L2940.4,724.8 L2959.1,724.1 L2977.9,725.3 L2996.6,729.0 L3015.3,730.5 L3034.0,736.3 L3052.8,728.4 L3071.5,734.5 L3090.2,733.2 L3108.9,740.6 L3127.7,739.3 L3146.4,729.5 L3165.1,728.3 L3183.8,728.3 L3202.6,734.4 L3221.3,735.7 L3240.0,735.7" fill="none" stroke="#808080" stroke-opacity="0.32" stroke-width="4.17" stroke-linejoin="round"/>
<path d="M450.0,684.4 L468.7,678.2 L487.4,673.3 L506.2,677.0 L524.9,684.4 L543.6,695.4 L562.3,704.0 L581.1,705.2 L599.8,701.5 L618.5,699.1 L637.2,699.1 L656.0,704.0 L674.7,716.2 L693.4,715.0 L712.1,716.2 L730.9,723.6 L749.6,728.5 L768.3,730.9 L787.0,733.4 L805.8,740.7 L824.5,732.1 L843.2,734.6 L861.9,730.9 L880.7,737.0 L899.4,733.4 L918.1,718.7 L936.8,713.8 L955.6,718.7 L974.3,715.0 L993.0,734.6 L1011.7,743.2 L1030.5,741.9 L1049.2,748.0 L1067.9,756.6 L1086.6,754.2 L1105.4,746.8 L1124.1,741.9 L1142.8,732.1 L1161.5,734.6 L1180.3,741.9 L1199.0,752.9 L1217.7,754.2 L1236.4,749.3 L1255.2,748.0 L1273.9,748.0 L1292.6,738.3 L1311.3,734.6 L1330.1,744.4 L1348.8,748.0 L1367.5,740.7 L1386.2,755.4 L1405.0,772.5 L1423.7,768.9 L1442.4,775.0 L1461.1,767.6 L1479.9,784.8 L1498.6,786.0 L1517.3,795.8 L1536.0,795.8 L1554.8,782.3 L1573.5,772.9 L1592.2,772.5 L1610.9,771.3 L1629.7,778.7 L1648.4,784.8 L1667.1,784.8 L1685.8,784.8 L1704.6,787.2 L1723.3,776.2 L1742.0,783.6 L1760.7,775.0 L1779.5,772.5 L1798.2,770.1 L1816.9,768.9 L1835.6,776.2 L1854.4,781.1 L1873.1,777.4 L1891.8,768.9 L1910.5,762.7 L1929.3,762.7 L1948.0,750.5 L1966.7,739.5 L1985.4,741.9 L2004.2,727.2 L2022.9,735.8 L2041.6,721.1 L2060.3,729.7 L2079.1,719.9 L2097.8,719.9 L2116.5,719.9 L2135.2,737.0 L2154.0,740.7 L2172.7,723.6 L2191.4,719.9 L2210.1,730.9 L2228.9,737.0 L2247.6,737.0 L2266.3,733.4 L2285.0,744.4 L2303.8,740.7 L2322.5,740.7 L2341.2,743.2 L2359.9,749.3 L2378.7,754.2 L2397.4,752.9 L2416.1,752.9 L2434.8,773.8 L2453.6,773.8 L2472.3,773.8 L2491.0,782.3 L2509.7,772.5 L2528.5,776.2 L2547.2,771.3 L2565.9,776.2 L2584.6,768.9 L2603.4,776.2 L2622.1,773.8 L2640.8,773.8 L2659.5,777.4 L2678.3,779.9 L2697.0,775.6 L2715.7,775.0 L2734.4,787.2 L2753.2,779.9 L2771.9,771.3 L2790.6,764.0 L2809.3,745.6 L2828.1,741.9 L2846.8,738.3 L2865.5,729.7 L2884.2,722.3 L2903.0,724.8 L2921.7,724.8 L2940.4,722.3 L2959.1,719.8 L2977.9,720.4 L2996.6,722.3 L3015.3,719.8 L3034.0,717.4 L3052.8,713.7 L3071.5,708.2 L3090.2,706.3 L3108.9,714.9 L3127.7,714.9 L3146.4,712.4 L3165.1,708.7 L3183.8,707.5 L3202.6,719.8 L3221.3,721.0 L3240.0,718.5" fill="none" stroke="#808080" stroke-opacity="0.32" stroke-width="4.17" stroke-linejoin="round"/>
<path d="M450.0,700.3 L468.7,700.3 L487.4,700.3 L506.2,690.5 L524.9,696.6 L543.6,691.7 L562.3,688.0 L581.1,704.0 L599.8,712.5 L618.5,706.4 L637.2,710.1 L656.0,716.2 L674.7,717.4 L693.4,713.8 L712.1,715.0 L730.9,718.7 L749.6,713.8 L768.3,715.0 L787.0,716.2 L805.8,716.2 L824.5,716.2 L843.2,719.9 L861.9,730.9 L880.7,738.3 L899.4,749.3 L918.1,759.1 L936.8,764.0 L955.6,764.0 L974.3,761.5 L993.0,746.8 L1011.7,751.7 L1030.5,751.7 L1049.2,755.4 L1067.9,754.2 L1086.6,745.6 L1105.4,740.7 L1124.1,739.5 L1142.8,729.7 L1161.5,730.9 L1180.3,739.5 L1199.0,739.5 L1217.7,732.1 L1236.4,727.2 L1255.2,728.5 L1273.9,722.3 L1292.6,724.8 L1311.3,729.7 L1330.1,732.1 L1348.8,734.6 L1367.5,718.7 L1386.2,717.4 L1405.0,713.8 L1423.7,695.4 L1442.4,695.4 L1461.1,694.9 L1479.9,697.8 L1498.6,700.3 L1517.3,700.3 L1536.0,702.7 L1554.8,704.0 L1573.5,706.4 L1592.2,706.4 L1610.9,706.4 L1629.7,710.1 L1648.4,705.2 L1667.1,710.1 L1685.8,704.0 L1704.6,713.8 L1723.3,712.5 L1742.0,706.4 L1760.7,707.6 L1779.5,713.8 L1798.2,715.0 L1816.9,716.2 L1835.6,719.9 L1854.4,713.8 L1873.1,712.5 L1891.8,701.5 L1910.5,690.5 L1929.3,696.6 L1948.0,690.5 L1966.7,697.8 L1985.4,704.0 L2004.2,706.4 L2022.9,695.4 L2041.6,686.8 L2060.3,674.6 L2079.1,678.2 L2097.8,678.2 L2116.5,681.9 L2135.2,685.6 L2154.0,686.8 L2172.7,685.6 L2191.4,685.6 L2210.1,690.5 L2228.9,685.6 L2247.6,691.7 L2266.3,689.3 L2285.0,689.3 L2303.8,679.5 L2322.5,675.8 L2341.2,670.9 L2359.9,668.4 L2378.7,672.1 L2397.4,670.9 L2416.1,668.4 L2434.8,666.0 L2453.6,666.0 L2472.3,663.5 L2491.0,666.0 L2509.7,673.3 L2528.5,683.1 L2547.2,685.6 L2565.9,679.5 L2584.6,690.5 L2603.4,701.5 L2622.1,705.2 L2640.8,697.8 L2659.5,694.2 L2678.3,690.5 L2697.0,691.7 L2715.7,694.2 L2734.4,692.9 L2753.2,696.6 L2771.9,696.6 L2790.6,699.1 L2809.3,695.4 L2828.1,692.9 L2846.8,690.5 L2865.5,697.8 L2884.2,697.8 L2903.0,705.2 L2921.7,716.2 L2940.4,710.1 L2959.1,707.6 L2977.9,708.8 L2996.6,712.5 L3015.3,712.5 L3034.0,716.1 L3052.8,712.5 L3071.5,707.6 L3090.2,698.9 L3108.9,698.9 L3127.7,705.1 L3146.4,695.3 L3165.1,690.4 L3183.8,686.7 L3202.6,689.1 L3221.3,690.4 L3240.0,695.3" fill="none" stroke="#808080" stroke-opacity="0.32" stroke-width="4.17" stroke-linejoin="round"/>
<path d="M450.0,407.7 L468.7,412.3 L487.4,413.2 L506.2,415.6 L524.9,409.6 L543.6,409.3 L562.3,401.7 L581.1,409.6 L599.8,416.2 L618.5,422.8 L637.2,422.8 L656.0,422.2 L674.7,428.3 L693.4,429.8 L712.1,432.8 L730.9,436.7 L749.6,444.4 L768.3,446.2 L787.0,459.6 L805.8,454.4 L824.5,455.6 L843.2,456.0 L861.9,453.3 L880.7,450.0 L899.4,453.3 L918.1,456.7 L936.8,460.0 L955.6,459.6 L974.3,456.7 L993.0,453.3 L1011.7,451.1 L1030.5,450.0 L1049.2,451.1 L1067.9,452.2 L1086.6,457.8 L1105.4,460.0 L1124.1,462.2 L1142.8,465.6 L1161.5,462.2 L1180.3,457.8 L1199.0,466.7 L1217.7,466.7 L1236.4,461.1 L1255.2,457.8 L1273.9,452.2 L1292.6,444.4 L1311.3,437.3 L1330.1,444.4 L1348.8,437.3 L1367.5,440.0 L1386.2,438.2 L1405.0,447.8 L1423.7,444.4 L1442.4,443.3 L1461.1,444.4 L1479.9,448.9 L1498.6,444.4 L1517.3,447.8 L1536.0,448.9 L1554.8,452.2 L1573.5,457.3 L1592.2,451.1 L1610.9,446.2 L1629.7,460.0 L1648.4,467.8 L1667.1,461.8 L1685.8,465.6 L1704.6,471.1 L1723.3,477.8 L1742.0,478.9 L1760.7,476.7 L1779.5,472.2 L1798.2,476.7 L1816.9,471.1 L1835.6,470.7 L1854.4,478.2 L1873.1,467.1 L1891.8,471.1 L1910.5,474.4 L1929.3,472.9 L1948.0,468.9 L1966.7,467.8 L1985.4,470.0 L2004.2,467.8 L2022.9,463.3 L2041.6,462.7 L2060.3,459.6 L2079.1,450.0 L2097.8,445.6 L2116.5,438.9 L2135.2,434.4 L2154.0,433.8 L2172.7,436.0 L2191.4,442.2 L2210.1,442.7 L2228.9,444.9 L2247.6,444.4 L2266.3,437.8 L2285.0,440.4 L2303.8,440.4 L2322.5,439.6 L2341.2,440.4 L2359.9,437.3 L2378.7,427.8 L2397.4,430.7 L2416.1,426.7 L2434.8,435.1 L2453.6,433.8 L2472.3,430.7 L2491.0,431.6 L2509.7,436.0 L2528.5,436.0 L2547.2,430.0 L2565.9,431.1 L2584.6,436.7 L2603.4,446.7 L2622.1,456.7 L2640.8,466.7 L2659.5,472.9 L2678.3,473.8 L2697.0,477.3 L2715.7,478.2 L2734.4,475.6 L2753.2,473.3 L2771.9,471.1 L2790.6,467.1 L2809.3,468.4 L2828.1,471.1 L2846.8,467.8 L2865.5,468.9 L2884.2,467.1 L2903.0,462.2 L2921.7,460.0 L2940.4,467.4 L2959.1,464.9 L2977.9,470.3 L2996.6,464.9 L3015.3,465.9 L3034.0,468.1 L3052.8,467.8 L3071.5,468.8 L3090.2,465.5 L3108.9,472.5 L3127.7,468.8 L3146.4,463.0 L3165.1,454.6 L3183.8,447.5 L3202.6,436.5 L3221.3,426.3 L3240.0,422.6" fill="none" stroke="#808080" stroke-opacity="0.32" stroke-width="4.17" stroke-linejoin="round"/>
<path d="M450.0,461.4 L468.7,459.0 L487.4,456.9 L506.2,448.8 L524.9,443.9 L543.6,443.9 L562.3,441.8 L581.1,439.7 L599.8,435.2 L618.5,436.7 L637.2,444.2 L656.0,446.3 L674.7,454.8 L693.4,453.0 L712.1,460.8 L730.9,462.2 L749.6,466.2 L768.3,466.7 L787.0,472.2 L805.8,473.3 L824.5,474.4 L843.2,474.4 L861.9,474.4 L880.7,473.8 L899.4,472.9 L918.1,476.7 L936.8,477.8 L955.6,478.2 L974.3,474.4 L993.0,470.0 L1011.7,467.8 L1030.5,474.4 L1049.2,467.8 L1067.9,465.6 L1086.6,463.3 L1105.4,461.1 L1124.1,463.3 L1142.8,470.0 L1161.5,478.9 L1180.3,481.1 L1199.0,480.0 L1217.7,476.7 L1236.4,474.4 L1255.2,474.4 L1273.9,466.7 L1292.6,462.7 L1311.3,464.0 L1330.1,461.1 L1348.8,452.2 L1367.5,443.3 L1386.2,455.6 L1405.0,444.4 L1423.7,438.2 L1442.4,438.2 L1461.1,446.7 L1479.9,451.1 L1498.6,451.1 L1517.3,446.7 L1536.0,450.0 L1554.8,453.3 L1573.5,445.6 L1592.2,454.4 L1610.9,452.2 L1629.7,452.2 L1648.4,451.1 L1667.1,448.9 L1685.8,452.9 L1704.6,438.9 L1723.3,434.4 L1742.0,432.9 L1760.7,426.7 L1779.5,424.0 L1798.2,425.6 L1816.9,424.4 L1835.6,423.3 L1854.4,430.7 L1873.1,429.3 L1891.8,419.6 L1910.5,414.4 L1929.3,413.3 L1948.0,408.9 L1966.7,401.1 L1985.4,407.8 L2004.2,411.1 L2022.9,410.0 L2041.6,407.8 L2060.3,411.1 L2079.1,401.1 L2097.8,401.8 L2116.5,398.9 L2135.2,407.1 L2154.0,402.9 L2172.7,407.8 L2191.4,406.2 L2210.1,401.8 L2228.9,400.0 L2247.6,398.9 L2266.3,401.6 L2285.0,402.2 L2303.8,404.4 L2322.5,397.8 L2341.2,405.1 L2359.9,404.4 L2378.7,406.2 L2397.4,418.2 L2416.1,415.6 L2434.8,421.1 L2453.6,424.4 L2472.3,424.0 L2491.0,422.2 L2509.7,425.6 L2528.5,420.0 L2547.2,418.4 L2565.9,418.9 L2584.6,412.2 L2603.4,413.8 L2622.1,410.7 L2640.8,413.8 L2659.5,414.4 L2678.3,408.4 L2697.0,407.1 L2715.7,404.9 L2734.4,396.7 L2753.2,395.1 L2771.9,405.6 L2790.6,407.1 L2809.3,412.9 L2828.1,416.0 L2846.8,421.3 L2865.5,422.2 L2884.2,432.9 L2903.0,426.7 L2921.7,421.4 L2940.4,414.5 L2959.1,405.3 L2977.9,406.1 L2996.6,403.2 L3015.3,404.7 L3034.0,406.9 L3052.8,411.3 L3071.5,408.6 L3090.2,413.8 L3108.9,411.6 L3127.7,406.4 L3146.4,410.1 L3165.1,409.4 L3183.8,411.6 L3202.6,417.4 L3221.3,419.4 L3240.0,428.5" fill="none" stroke="#808080" stroke-opacity="0.32" stroke-width="4.17" stroke-linejoin="round"/>
<path d="M450.0,934.8 L468.7,928.8 L487.4,930.0 L506.2,926.9 L524.9,925.7 L543.6,916.4 L562.3,918.8 L581.1,911.9 L599.8,905.2 L618.5,903.7 L637.2,904.6 L656.0,904.6 L674.7,903.7 L693.4,905.2 L712.1,902.2 L730.9,912.8 L749.6,911.3 L768.3,915.8 L787.0,910.7 L805.8,902.2 L824.5,901.6 L843.2,904.6 L861.9,903.1 L880.7,901.3 L899.4,890.2 L918.1,888.6 L936.8,902.2 L955.6,903.1 L974.3,904.6 L993.0,907.6 L1011.7,907.6 L1030.5,917.9 L1049.2,918.8 L1067.9,922.7 L1086.6,927.9 L1105.4,941.4 L1124.1,947.5 L1142.8,952.9 L1161.5,957.1 L1180.3,963.1 L1199.0,955.9 L1217.7,955.9 L1236.4,968.6 L1255.2,962.5 L1273.9,968.0 L1292.6,962.5 L1311.3,962.5 L1330.1,955.0 L1348.8,946.6 L1367.5,950.5 L1386.2,939.9 L1405.0,923.3 L1423.7,921.2 L1442.4,914.3 L1461.1,925.4 L1479.9,931.5 L1498.6,923.3 L1517.3,912.2 L1536.0,912.8 L1554.8,908.3 L1573.5,900.7 L1592.2,884.1 L1610.9,881.7 L1629.7,880.5 L1648.4,876.6 L1667.1,869.2 L1685.8,862.5 L1704.6,867.5 L1723.3,875.8 L1742.0,879.2 L1760.7,871.7 L1779.5,875.0 L1798.2,869.2 L1816.9,880.8 L1835.6,871.7 L1854.4,869.2 L1873.1,860.8 L1891.8,854.7 L1910.5,860.8 L1929.3,859.7 L1948.0,866.7 L1966.7,887.9 L1985.4,895.4 L2004.2,907.5 L2022.9,909.9 L2041.6,916.5 L2060.3,916.5 L2079.1,917.4 L2097.8,922.5 L2116.5,928.0 L2135.2,934.0 L2154.0,940.6 L2172.7,940.0 L2191.4,940.6 L2210.1,946.1 L2228.9,946.7 L2247.6,958.7 L2266.3,958.1 L2285.0,962.6 L2303.8,957.2 L2322.5,949.7 L2341.2,940.0 L2359.9,929.2 L2378.7,922.5 L2397.4,930.7 L2416.1,934.6 L2434.8,941.2 L2453.6,948.2 L2472.3,951.2 L2491.0,955.7 L2509.7,970.2 L2528.5,966.9 L2547.2,963.8 L2565.9,962.6 L2584.6,962.3 L2603.4,950.6 L2622.1,956.3 L2640.8,957.8 L2659.5,956.6 L2678.3,951.8 L2697.0,946.1 L2715.7,951.9 L2734.4,946.8 L2753.2,950.0 L2771.9,939.1 L2790.6,936.1 L2809.3,918.3 L2828.1,916.0 L2846.8,913.7 L2865.5,931.0 L2884.2,928.3 L2903.0,938.0 L2921.7,953.7 L2940.4,942.6 L2959.1,943.3 L2977.9,938.4 L2996.6,942.6 L3015.3,942.6 L3034.0,943.8 L3052.8,940.7 L3071.5,924.1 L3090.2,915.3 L3108.9,917.2 L3127.7,913.7 L3146.4,904.4 L3165.1,913.0 L3183.8,912.1 L3202.6,917.6 L3221.3,912.5 L3240.0,910.2" fill="none" stroke="#808080" stroke-opacity="0.32" stroke-width="4.17" stroke-linejoin="round"/>
<path d="M450.0,1061.4 L468.7,1058.4 L487.4,1049.4 L506.2,1054.5 L524.9,1053.0 L543.6,1066.6 L562.3,1068.7 L581.1,1070.2 L599.8,1075.0 L618.5,1074.1 L637.2,1076.5 L656.0,1075.6 L674.7,1074.7 L693.4,1072.6 L712.1,1079.5 L730.9,1082.3 L749.6,1073.2 L768.3,1073.2 L787.0,1074.1 L805.8,1073.2 L824.5,1073.2 L843.2,1075.0 L861.9,1089.8 L880.7,1095.2 L899.4,1092.2 L918.1,1084.7 L936.8,1093.1 L955.6,1090.7 L974.3,1086.8 L993.0,1077.1 L1011.7,1075.6 L1030.5,1080.7 L1049.2,1083.8 L1067.9,1083.2 L1086.6,1084.7 L1105.4,1078.6 L1124.1,1081.7 L1142.8,1083.8 L1161.5,1085.6 L1180.3,1091.6 L1199.0,1093.7 L1217.7,1095.2 L1236.4,1098.2 L1255.2,1099.1 L1273.9,1091.6 L1292.6,1086.8 L1311.3,1090.7 L1330.1,1095.2 L1348.8,1096.1 L1367.5,1096.1 L1386.2,1097.6 L1405.0,1091.3 L1423.7,1087.7 L1442.4,1087.7 L1461.1,1096.7 L1479.9,1106.7 L1498.6,1109.7 L1517.3,1107.9 L1536.0,1111.8 L1554.8,1111.8 L1573.5,1111.8 L1592.2,1113.3 L1610.9,1117.8 L1629.7,1121.8 L1648.4,1125.4 L1667.1,1123.3 L1685.8,1117.8 L1704.6,1120.9 L1723.3,1122.4 L1742.0,1122.4 L1760.7,1126.0 L1779.5,1132.0 L1798.2,1132.3 L1816.9,1136.8 L1835.6,1139.9 L1854.4,1142.0 L1873.1,1139.0 L1891.8,1127.8 L1910.5,1121.8 L1929.3,1126.9 L1948.0,1118.6 L1966.7,1133.0 L1985.4,1136.6 L2004.2,1137.2 L2022.9,1134.5 L2041.6,1126.7 L2060.3,1126.7 L2079.1,1129.1 L2097.8,1135.7 L2116.5,1146.3 L2135.2,1146.3 L2154.0,1134.5 L2172.7,1131.5 L2191.4,1116.4 L2210.1,1113.1 L2228.9,1118.6 L2247.6,1127.6 L2266.3,1127.6 L2285.0,1127.6 L2303.8,1117.0 L2322.5,1111.0 L2341.2,1102.9 L2359.9,1094.4 L2378.7,1099.9 L2397.4,1101.4 L2416.1,1103.5 L2434.8,1102.0 L2453.6,1112.5 L2472.3,1114.6 L2491.0,1107.4 L2509.7,1118.6 L2528.5,1114.6 L2547.2,1112.5 L2565.9,1107.4 L2584.6,1106.5 L2603.4,1111.0 L2622.1,1105.9 L2640.8,1102.9 L2659.5,1093.8 L2678.3,1089.0 L2697.0,1091.9 L2715.7,1101.1 L2734.4,1103.4 L2753.2,1106.8 L2771.9,1113.8 L2790.6,1113.3 L2809.3,1106.8 L2828.1,1101.1 L2846.8,1094.1 L2865.5,1100.4 L2884.2,1097.6 L2903.0,1104.5 L2921.7,1116.1 L2940.4,1107.5 L2959.1,1107.5 L2977.9,1104.1 L2996.6,1115.4 L3015.3,1114.9 L3034.0,1119.6 L3052.8,1123.5 L3071.5,1114.2 L3090.2,1109.2 L3108.9,1111.0 L3127.7,1118.4 L3146.4,1116.1 L3165.1,1116.1 L3183.8,1121.9 L3202.6,1127.7 L3221.3,1139.2 L3240.0,1135.8" fill="none" stroke="#808080" stroke-opacity="0.32" stroke-width="4.17" stroke-linejoin="round"/>
<path d="M450.0,810.2 L468.7,809.2 L487.4,810.2 L506.2,807.5 L524.9,809.2 L543.6,805.8 L562.3,798.3 L581.1,800.0 L599.8,806.8 L618.5,803.4 L637.2,809.2 L656.0,808.1 L674.7,808.1 L693.4,800.7 L712.1,805.1 L730.9,809.2 L749.6,810.2 L768.3,800.7 L787.0,804.1 L805.8,810.9 L824.5,808.0 L843.2,805.8 L861.9,806.4 L880.7,805.1 L899.4,810.9 L918.1,815.3 L936.8,809.2 L955.6,802.4 L974.3,802.4 L993.0,790.5 L1011.7,796.2 L1030.5,800.7 L1049.2,801.3 L1067.9,804.1 L1086.6,809.2 L1105.4,819.4 L1124.1,827.9 L1142.8,827.9 L1161.5,815.3 L1180.3,820.4 L1199.0,817.3 L1217.7,819.4 L1236.4,819.4 L1255.2,833.6 L1273.9,826.8 L1292.6,820.0 L1311.3,820.0 L1330.1,822.8 L1348.8,825.5 L1367.5,821.1 L1386.2,831.3 L1405.0,833.6 L1423.7,848.3 L1442.4,855.1 L1461.1,856.8 L1479.9,868.7 L1498.6,876.5 L1517.3,877.9 L1536.0,877.2 L1554.8,885.7 L1573.5,880.6 L1592.2,872.1 L1610.9,873.1 L1629.7,873.8 L1648.4,868.7 L1667.1,861.9 L1685.8,853.4 L1704.6,856.1 L1723.3,856.1 L1742.0,851.7 L1760.7,864.3 L1779.5,857.5 L1798.2,855.1 L1816.9,850.0 L1835.6,850.7 L1854.4,850.0 L1873.1,853.4 L1891.8,844.9 L1910.5,843.2 L1929.3,837.0 L1948.0,829.6 L1966.7,836.4 L1985.4,826.2 L2004.2,819.4 L2022.9,821.1 L2041.6,816.0 L2060.3,813.2 L2079.1,811.9 L2097.8,810.2 L2116.5,813.2 L2135.2,824.5 L2154.0,824.5 L2172.7,819.4 L2191.4,819.4 L2210.1,829.6 L2228.9,833.6 L2247.6,848.3 L2266.3,839.8 L2285.0,839.8 L2303.8,844.9 L2322.5,851.7 L2341.2,856.1 L2359.9,858.5 L2378.7,851.7 L2397.4,845.9 L2416.1,841.5 L2434.8,833.0 L2453.6,836.4 L2472.3,834.7 L2491.0,834.7 L2509.7,838.1 L2528.5,825.5 L2547.2,827.9 L2565.9,822.8 L2584.6,817.0 L2603.4,816.0 L2622.1,816.0 L2640.8,805.8 L2659.5,800.7 L2678.3,795.6 L2697.0,792.2 L2715.7,788.1 L2734.4,789.4 L2753.2,783.6 L2771.9,786.0 L2790.6,792.2 L2809.3,789.4 L2828.1,798.3 L2846.8,798.3 L2865.5,780.2 L2884.2,777.9 L2903.0,770.0 L2921.7,758.1 L2940.4,758.8 L2959.1,755.8 L2977.9,755.8 L2996.6,742.8 L3015.3,737.7 L3034.0,743.9 L3052.8,738.4 L3071.5,741.8 L3090.2,738.4 L3108.9,749.6 L3127.7,754.7 L3146.4,756.4 L3165.1,753.0 L3183.8,743.9 L3202.6,749.6 L3221.3,739.4 L3240.0,739.4" fill="none" stroke="#808080" stroke-opacity="0.32" stroke-width="4.17" stroke-linejoin="round"/>
<path d="M450.0,815.6 L468.7,814.6 L487.4,815.6 L506.2,812.9 L524.9,814.6 L543.6,811.2 L562.3,803.7 L581.1,805.4 L599.8,812.2 L618.5,808.8 L637.2,814.6 L656.0,813.5 L674.7,813.5 L693.4,806.1 L712.1,810.5 L730.9,814.6 L749.6,815.6 L768.3,806.1 L787.0,809.5 L805.8,816.3 L824.5,813.4 L843.2,811.2 L861.9,811.8 L880.7,810.5 L899.4,816.3 L918.1,820.7 L936.8,814.6 L955.6,807.8 L974.3,807.8 L993.0,795.9 L1011.7,801.6 L1030.5,806.1 L1049.2,806.7 L1067.9,809.5 L1086.6,814.6 L1105.4,824.8 L1124.1,833.3 L1142.8,833.3 L1161.5,820.7 L1180.3,825.8 L1199.0,822.7 L1217.7,824.8 L1236.4,824.8 L1255.2,839.0 L1273.9,832.2 L1292.6,825.4 L1311.3,825.4 L1330.1,828.2 L1348.8,830.9 L1367.5,826.5 L1386.2,836.7 L1405.0,839.0 L1423.7,853.7 L1442.4,860.5 L1461.1,862.2 L1479.9,874.1 L1498.6,881.9 L1517.3,883.3 L1536.0,882.6 L1554.8,891.1 L1573.5,886.0 L1592.2,877.5 L1610.9,878.5 L1629.7,879.2 L1648.4,874.1 L1667.1,867.3 L1685.8,858.8 L1704.6,861.5 L1723.3,861.5 L1742.0,857.1 L1760.7,869.7 L1779.5,862.9 L1798.2,860.5 L1816.9,855.4 L1835.6,856.1 L1854.4,855.4 L1873.1,858.8 L1891.8,850.3 L1910.5,848.6 L1929.3,842.4 L1948.0,835.0 L1966.7,841.8 L1985.4,831.6 L2004.2,824.8 L2022.9,826.5 L2041.6,821.4 L2060.3,818.6 L2079.1,817.3 L2097.8,815.6 L2116.5,818.6 L2135.2,829.9 L2154.0,829.9 L2172.7,824.8 L2191.4,824.8 L2210.1,835.0 L2228.9,839.0 L2247.6,853.7 L2266.3,845.2 L2285.0,845.2 L2303.8,850.3 L2322.5,857.1 L2341.2,861.5 L2359.9,863.9 L2378.7,857.1 L2397.4,851.3 L2416.1,846.9 L2434.8,838.4 L2453.6,841.8 L2472.3,840.1 L2491.0,840.1 L2509.7,843.5 L2528.5,830.9 L2547.2,833.3 L2565.9,828.2 L2584.6,822.4 L2603.4,821.4 L2622.1,821.4 L2640.8,811.2 L2659.5,806.1 L2678.3,801.0 L2697.0,797.6 L2715.7,793.5 L2734.4,794.8 L2753.2,789.0 L2771.9,791.4 L2790.6,797.6 L2809.3,794.8 L2828.1,803.7 L2846.8,803.7 L2865.5,785.6 L2884.2,783.3 L2903.0,775.4 L2921.7,763.5 L2940.4,764.2 L2959.1,761.2 L2977.9,761.2 L2996.6,748.2 L3015.3,743.1 L3034.0,749.3 L3052.8,743.8 L3071.5,747.2 L3090.2,743.8 L3108.9,755.0 L3127.7,760.1 L3146.4,761.8 L3165.1,758.4 L3183.8,749.3 L3202.6,755.0 L3221.3,744.8 L3240.0,744.8" fill="none" stroke="#808080" stroke-width="4.17" stroke-linejoin="round"/>
<path d="M450.0,470.3 L468.7,464.9 L487.4,475.1 L506.2,469.3 L524.9,474.4 L543.6,477.8 L562.3,480.2 L581.1,479.5 L599.8,479.5 L618.5,473.7 L637.2,476.8 L656.0,477.8 L674.7,472.7 L693.4,473.4 L712.1,474.4 L730.9,478.5 L749.6,479.5 L768.3,478.5 L787.0,477.8 L805.8,481.9 L824.5,474.8 L843.2,473.7 L861.9,483.9 L880.7,485.3 L899.4,479.5 L918.1,478.5 L936.8,479.5 L955.6,481.9 L974.3,478.5 L993.0,471.7 L1011.7,481.9 L1030.5,487.3 L1049.2,486.3 L1067.9,484.6 L1086.6,482.2 L1105.4,485.3 L1124.1,486.3 L1142.8,485.3 L1161.5,482.9 L1180.3,482.9 L1199.0,479.5 L1217.7,480.5 L1236.4,484.6 L1255.2,489.7 L1273.9,486.3 L1292.6,479.5 L1311.3,478.5 L1330.1,489.7 L1348.8,491.4 L1367.5,492.1 L1386.2,494.1 L1405.0,493.1 L1423.7,489.7 L1442.4,495.5 L1461.1,502.3 L1479.9,498.9 L1498.6,498.9 L1517.3,499.9 L1536.0,503.3 L1554.8,514.6 L1573.5,515.2 L1592.2,510.1 L1610.9,509.1 L1629.7,509.1 L1648.4,507.8 L1667.1,506.7 L1685.8,497.6 L1704.6,499.9 L1723.3,486.3 L1742.0,484.6 L1760.7,487.3 L1779.5,486.3 L1798.2,487.3 L1816.9,488.7 L1835.6,486.3 L1854.4,486.3 L1873.1,482.9 L1891.8,473.7 L1910.5,477.1 L1929.3,481.2 L1948.0,473.7 L1966.7,482.9 L1985.4,492.1 L2004.2,488.0 L2022.9,483.9 L2041.6,485.3 L2060.3,484.6 L2079.1,487.3 L2097.8,489.7 L2116.5,493.1 L2135.2,479.5 L2154.0,481.9 L2172.7,498.2 L2191.4,489.7 L2210.1,486.3 L2228.9,484.6 L2247.6,479.5 L2266.3,481.2 L2285.0,475.1 L2303.8,472.7 L2322.5,474.4 L2341.2,475.1 L2359.9,476.1 L2378.7,482.9 L2397.4,492.1 L2416.1,488.7 L2434.8,490.7 L2453.6,483.9 L2472.3,491.4 L2491.0,490.4 L2509.7,496.5 L2528.5,492.1 L2547.2,487.0 L2565.9,486.3 L2584.6,486.3 L2603.4,480.5 L2622.1,477.8 L2640.8,477.8 L2659.5,482.9 L2678.3,480.5 L2697.0,480.5 L2715.7,481.9 L2734.4,475.1 L2753.2,477.1 L2771.9,472.7 L2790.6,471.7 L2809.3,474.4 L2828.1,472.7 L2846.8,476.1 L2865.5,483.9 L2884.2,479.5 L2903.0,488.7 L2921.7,491.4 L2940.4,489.7 L2959.1,489.7 L2977.9,493.1 L2996.6,496.5 L3015.3,502.3 L3034.0,495.5 L3052.8,493.1 L3071.5,483.9 L3090.2,482.9 L3108.9,493.1 L3127.7,499.9 L3146.4,501.6 L3165.1,499.9 L3183.8,497.6 L3202.6,491.4 L3221.3,480.5 L3240.0,484.6" fill="none" stroke="#808080" stroke-width="4.17" stroke-linejoin="round"/>
<path d="M450.0,564.6 L468.7,562.2 L487.4,568.0 L506.2,563.5 L524.9,572.4 L543.6,572.0 L562.3,568.0 L581.1,569.0 L599.8,575.8 L618.5,569.7 L637.2,568.0 L656.0,566.9 L674.7,566.9 L693.4,570.3 L712.1,572.4 L730.9,578.2 L749.6,578.8 L768.3,580.5 L787.0,581.6 L805.8,583.9 L824.5,586.3 L843.2,586.7 L861.9,587.3 L880.7,590.1 L899.4,593.5 L918.1,596.2 L936.8,596.9 L955.6,595.9 L974.3,596.2 L993.0,594.5 L1011.7,594.1 L1030.5,593.5 L1049.2,591.8 L1067.9,589.0 L1086.6,588.4 L1105.4,591.1 L1124.1,594.1 L1142.8,595.2 L1161.5,591.8 L1180.3,598.6 L1199.0,601.6 L1217.7,603.7 L1236.4,608.8 L1255.2,611.2 L1273.9,613.9 L1292.6,613.2 L1311.3,620.0 L1330.1,621.4 L1348.8,620.7 L1367.5,620.7 L1386.2,622.4 L1405.0,625.8 L1423.7,625.8 L1442.4,623.4 L1461.1,620.7 L1479.9,628.2 L1498.6,636.0 L1517.3,635.0 L1536.0,636.0 L1554.8,631.6 L1573.5,629.7 L1592.2,627.5 L1610.9,626.8 L1629.7,630.2 L1648.4,625.8 L1667.1,622.4 L1685.8,619.0 L1704.6,619.0 L1723.3,624.1 L1742.0,623.4 L1760.7,623.1 L1779.5,622.4 L1798.2,624.1 L1816.9,623.4 L1835.6,622.4 L1854.4,624.1 L1873.1,623.4 L1891.8,623.4 L1910.5,615.6 L1929.3,615.6 L1948.0,613.0 L1966.7,611.2 L1985.4,612.2 L2004.2,620.7 L2022.9,613.9 L2041.6,613.9 L2060.3,615.6 L2079.1,615.6 L2097.8,623.4 L2116.5,624.1 L2135.2,623.4 L2154.0,620.7 L2172.7,615.6 L2191.4,616.3 L2210.1,624.1 L2228.9,628.2 L2247.6,626.8 L2266.3,626.5 L2285.0,624.1 L2303.8,620.7 L2322.5,622.4 L2341.2,624.1 L2359.9,625.8 L2378.7,623.4 L2397.4,626.5 L2416.1,623.1 L2434.8,621.4 L2453.6,620.7 L2472.3,620.7 L2491.0,619.7 L2509.7,627.5 L2528.5,630.2 L2547.2,628.2 L2565.9,624.1 L2584.6,620.7 L2603.4,623.4 L2622.1,617.3 L2640.8,619.0 L2659.5,619.0 L2678.3,612.9 L2697.0,618.5 L2715.7,619.0 L2734.4,624.1 L2753.2,617.3 L2771.9,617.3 L2790.6,614.6 L2809.3,612.2 L2828.1,614.6 L2846.8,614.6 L2865.5,620.7 L2884.2,616.6 L2903.0,616.6 L2921.7,617.3 L2940.4,623.4 L2959.1,623.4 L2977.9,625.1 L2996.6,627.5 L3015.3,625.8 L3034.0,629.2 L3052.8,632.6 L3071.5,625.8 L3090.2,624.1 L3108.9,625.8 L3127.7,628.2 L3146.4,628.2 L3165.1,637.7 L3183.8,640.4 L3202.6,647.2 L3221.3,652.3 L3240.0,653.0" fill="none" stroke="#000" stroke-width="8.33" stroke-linejoin="round"/>
<path d="M450.0,535.6 L468.7,533.9 L487.4,528.2 L506.2,523.7 L524.9,518.0 L543.6,517.6 L562.3,511.8 L581.1,507.8 L599.8,506.7 L618.5,501.6 L637.2,505.7 L656.0,498.9 L674.7,494.8 L693.4,488.0 L712.1,482.9 L730.9,480.5 L749.6,476.1 L768.3,471.7 L787.0,467.6 L805.8,465.9 L824.5,462.9 L843.2,465.9 L861.9,454.0 L880.7,459.1 L899.4,453.3 L918.1,452.3 L936.8,442.1 L955.6,446.5 L974.3,455.0 L993.0,453.3 L1011.7,458.1 L1030.5,461.5 L1049.2,467.6 L1067.9,464.2 L1086.6,469.3 L1105.4,473.4 L1124.1,477.8 L1142.8,481.2 L1161.5,487.3 L1180.3,493.1 L1199.0,489.7 L1217.7,493.1 L1236.4,496.5 L1255.2,511.8 L1273.9,528.2 L1292.6,528.2 L1311.3,528.8 L1330.1,529.5 L1348.8,537.3 L1367.5,532.9 L1386.2,538.4 L1405.0,532.2 L1423.7,537.3 L1442.4,538.4 L1461.1,543.1 L1479.9,546.5 L1498.6,558.8 L1517.3,562.9 L1536.0,559.5 L1554.8,569.0 L1573.5,571.4 L1592.2,568.0 L1610.9,562.9 L1629.7,578.2 L1648.4,582.6" fill="none" stroke="#008000" stroke-width="12.5" stroke-linejoin="round" stroke-linecap="square"/>
</g>
<path d="M618.52,1837.5 L618.52,210.0" stroke="#000" stroke-width="2.08" fill="none" stroke-dasharray="4.17 12.5"/>
<path d="M993.02,1837.5 L993.02,210.0" stroke="#000" stroke-width="2.08" fill="none" stroke-dasharray="4.17 12.5"/>
<path d="M1367.52,1837.5 L1367.52,210.0" stroke="#000" stroke-width="2.08" fill="none" stroke-dasharray="4.17 12.5"/>
<path d="M1742.01,1837.5 L1742.01,210.0" stroke="#000" stroke-width="2.08" fill="none" stroke-dasharray="4.17 12.5"/>
<path d="M2116.51,1837.5 L2116.51,210.0" stroke="#000" stroke-width="2.08" fill="none" stroke-dasharray="4.17 12.5"/>
<path d="M2491.01,1837.5 L2491.01,210.0" stroke="#000" stroke-width="2.08" fill="none" stroke-dasharray="4.17 12.5"/>
<path d="M2865.50,1837.5 L2865.50,210.0" stroke="#000" stroke-width="2.08" fill="none" stroke-dasharray="4.17 12.5"/>
<path d="M3240.00,1837.5 L3240.00,210.0" stroke="#000" stroke-width="2.08" fill="none" stroke-dasharray="4.17 12.5"/>
<path d="M450.0,1837.50 L3240.0,1837.50" stroke="#000" stroke-width="2.08" fill="none" stroke-dasharray="4.17 12.5"/>
<path d="M450.0,1566.25 L3240.0,1566.25" stroke="#000" stroke-width="2.08" fill="none" stroke-dasharray="4.17 12.5"/>
<path d="M450.0,1295.00 L3240.0,1295.00" stroke="#000" stroke-width="2.08" fill="none" stroke-dasharray="4.17 12.5"/>
<path d="M450.0,1023.75 L3240.0,1023.75" stroke="#000" stroke-width="2.08" fill="none" stroke-dasharray="4.17 12.5"/>
<path d="M450.0,752.50 L3240.0,752.50" stroke="#000" stroke-width="2.08" fill="none" stroke-dasharray="4.17 12.5"/>
<path d="M450.0,481.25 L3240.0,481.25" stroke="#000" stroke-width="2.08" fill="none" stroke-dasharray="4.17 12.5"/>
<path d="M450.0,210.00 L3240.0,210.00" stroke="#000" stroke-width="2.08" fill="none" stroke-dasharray="4.17 12.5"/>
<path d="M618.52,1837.5 L618.52,1820.83 M618.52,210.0 L618.52,226.67000000000002" stroke="#000" stroke-width="2.08" fill="none"/>
<path d="M993.02,1837.5 L993.02,1820.83 M993.02,210.0 L993.02,226.67000000000002" stroke="#000" stroke-width="2.08" fill="none"/>
<path d="M1367.52,1837.5 L1367.52,1820.83 M1367.52,210.0 L1367.52,226.67000000000002" stroke="#000" stroke-width="2.08" fill="none"/>
<path d="M1742.01,1837.5 L1742.01,1820.83 M1742.01,210.0 L1742.01,226.67000000000002" stroke="#000" stroke-width="2.08" fill="none"/>
<path d="M2116.51,1837.5 L2116.51,1820.83 M2116.51,210.0 L2116.51,226.67000000000002" stroke="#000" stroke-width="2.08" fill="none"/>
<path d="M2491.01,1837.5 L2491.01,1820.83 M2491.01,210.0 L2491.01,226.67000000000002" stroke="#000" stroke-width="2.08" fill="none"/>
<path d="M2865.50,1837.5 L2865.50,1820.83 M2865.50,210.0 L2865.50,226.67000000000002" stroke="#000" stroke-width="2.08" fill="none"/>
<path d="M3240.00,1837.5 L3240.00,1820.83 M3240.00,210.0 L3240.00,226.67000000000002" stroke="#000" stroke-width="2.08" fill="none"/>
<path d="M450.0,1837.50 L466.67,1837.50 M3240.0,1837.50 L3223.33,1837.50" stroke="#000" stroke-width="2.08" fill="none"/>
<path d="M450.0,1566.25 L466.67,1566.25 M3240.0,1566.25 L3223.33,1566.25" stroke="#000" stroke-width="2.08" fill="none"/>
<path d="M450.0,1295.00 L466.67,1295.00 M3240.0,1295.00 L3223.33,1295.00" stroke="#000" stroke-width="2.08" fill="none"/>
<path d="M450.0,1023.75 L466.67,1023.75 M3240.0,1023.75 L3223.33,1023.75" stroke="#000" stroke-width="2.08" fill="none"/>
<path d="M450.0,752.50 L466.67,752.50 M3240.0,752.50 L3223.33,752.50" stroke="#000" stroke-width="2.08" fill="none"/>
<path d="M450.0,481.25 L466.67,481.25 M3240.0,481.25 L3223.33,481.25" stroke="#000" stroke-width="2.08" fill="none"/>
<path d="M450.0,210.00 L466.67,210.00 M3240.0,210.00 L3223.33,210.00" stroke="#000" stroke-width="2.08" fill="none"/>
<rect x="450.0" y="210.0" width="2790.0" height="1627.5" fill="none" stroke="#000" stroke-width="4.17"/>
<text x="618.52" y="1894.5" font-size="58.33" text-anchor="middle">1960</text>
<text x="993.02" y="1894.5" font-size="58.33" text-anchor="middle">1980</text>
<text x="1367.52" y="1894.5" font-size="58.33" text-anchor="middle">2000</text>
<text x="1742.01" y="1894.5" font-size="58.33" text-anchor="middle">2020</text>
<text x="2116.51" y="1894.5" font-size="58.33" text-anchor="middle">2040</text>
<text x="2491.01" y="1894.5" font-size="58.33" text-anchor="middle">2060</text>
<text x="2865.50" y="1894.5" font-size="58.33" text-anchor="middle">2080</text>
<text x="3240.00" y="1894.5" font-size="58.33" text-anchor="middle">2100</text>
<text x="433.3" y="1852.25" font-size="58.33" text-anchor="end">0</text>
<text x="433.3" y="1581.00" font-size="58.33" text-anchor="end">50</text>
<text x="433.3" y="1309.75" font-size="58.33" text-anchor="end">100</text>
<text x="433.3" y="1038.50" font-size="58.33" text-anchor="end">150</text>
<text x="433.3" y="767.25" font-size="58.33" text-anchor="end">200</text>
<text x="433.3" y="496.00" font-size="58.33" text-anchor="end">250</text>
<text x="433.3" y="224.75" font-size="58.33" text-anchor="end">300</text>
<text x="1845" y="188.7" font-size="70" text-anchor="middle">Alūksne.Jūn</text>
<text x="1845" y="1968" font-size="58.33" text-anchor="middle">Gads</text>
<g transform="translate(305.8,1023.75) rotate(-90)">
<text x="-562" y="0" font-size="58.33" text-anchor="start">Saules radiācija uz horizontālas virsmas,</text>
<text x="399.5" y="0" font-size="58.33" font-style="italic" textLength="58" lengthAdjust="spacingAndGlyphs">W</text>
<text x="456" y="9" font-size="72" textLength="31" lengthAdjust="spacingAndGlyphs">/</text>
<text x="484.5" y="0" font-size="58.33" font-style="italic" textLength="54" lengthAdjust="spacingAndGlyphs">m</text>
<text x="541" y="-21" font-size="41">2</text>
</g>
<rect x="484.5" y="1385.3" width="590.8" height="417" fill="#fff" stroke="#000" stroke-width="4.17"/>
<path d="M534,1437.9 L632,1437.9" stroke="#808080" stroke-width="4.17" stroke-linecap="square" fill="none"/>
<text x="709" y="1462.4" font-size="70">13%</text>
<path d="M534,1537.2 L632,1537.2" stroke="#808080" stroke-width="4.17" stroke-linecap="square" fill="none"/>
<text x="709" y="1561.7" font-size="70">87%</text>
<path d="M534,1636.2 L632,1636.2" stroke="#000" stroke-width="8.33" stroke-linecap="square" fill="none"/>
<text x="709" y="1660.7" font-size="70">Mediāna</text>
<path d="M534,1735.6 L632,1735.6" stroke="#008000" stroke-width="12.5" stroke-linecap="square" fill="none"/>
<text x="709" y="1760.1" font-size="70">Novērojumi</text>
</svg></body></html>
